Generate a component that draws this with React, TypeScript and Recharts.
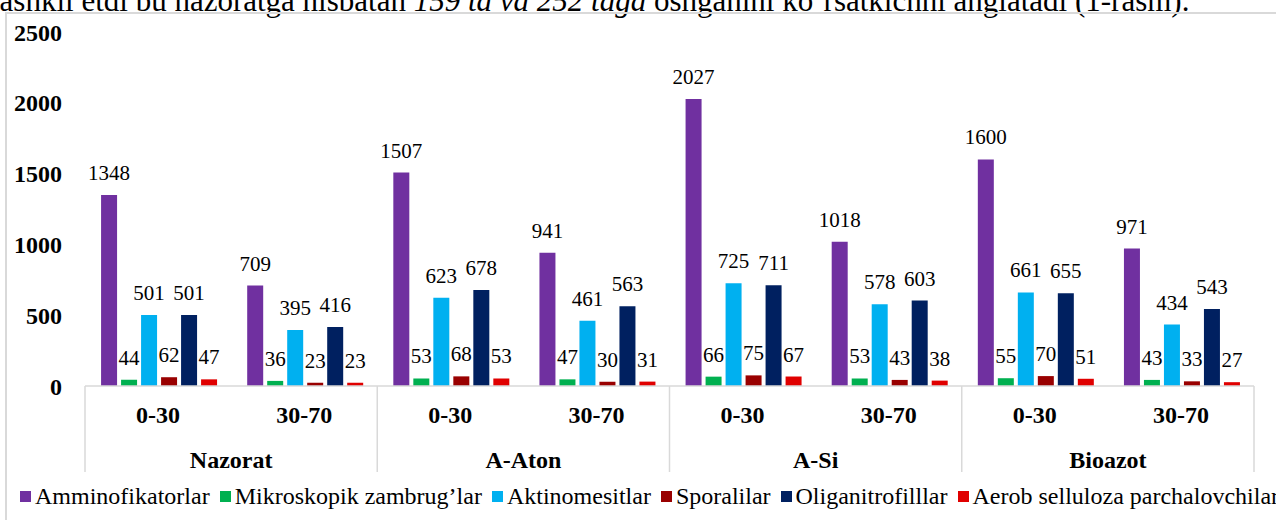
import { BarChart, Bar, XAxis, YAxis, Legend, LabelList } from 'recharts';

const groups = ['Nazorat', 'A-Aton', 'A-Si', 'Bioazot'];
const depths = ['0-30', '30-70'];

// one value per group/depth: Nazorat 0-30, Nazorat 30-70, A-Aton 0-30, ...
const amminofikatorlar = [1348, 709, 1507, 941, 2027, 1018, 1600, 971];
const mikroskopik = [44, 36, 53, 47, 66, 53, 55, 43];
const aktinomesitlar = [501, 395, 623, 461, 725, 578, 661, 434];
const sporalilar = [62, 23, 68, 30, 75, 43, 70, 33];
const oliganitrofillar = [501, 416, 678, 563, 711, 603, 655, 543];
const aerob = [47, 23, 53, 31, 67, 38, 51, 27];

const yTicks = [0, 500, 1000, 1500, 2000, 2500];

const series = [
  { key: 'amm', name: 'Amminofikatorlar', color: '#7030A0', values: amminofikatorlar },
  { key: 'mik', name: 'Mikroskopik zambrug’lar', color: '#00B050', values: mikroskopik },
  { key: 'akt', name: 'Aktinomesitlar', color: '#00B0F0', values: aktinomesitlar },
  { key: 'spo', name: 'Sporalilar', color: '#990000', values: sporalilar },
  { key: 'oli', name: 'Oliganitrofilllar', color: '#002060', values: oliganitrofillar },
  { key: 'aer', name: 'Aerob selluloza parchalovchilar', color: '#E00000', values: aerob },
];

const data = groups.flatMap((g, gi) =>
  depths.map((d, di) => {
    const row: Record<string, string | number> = { group: g, depth: d };
    series.forEach((s) => {
      row[s.key] = s.values[gi * depths.length + di];
    });
    return row;
  })
);

const FONT = '"Liberation Serif", "Times New Roman", serif';
const GRID = '#d9d9d9';
const PLOT_W = 1276 - 85 - 22;

function DepthTick(props: any) {
  const { x, y, index, payload } = props;
  const band = PLOT_W / data.length;
  const row = data[index];
  const first = index % depths.length === 0;
  const last = index === data.length - 1;
  return (
    <g>
      <text x={x} y={y + 37} textAnchor="middle" fontFamily={FONT} fontWeight="bold" fontSize={24} fill="#000">
        {payload.value}
      </text>
      {first && (
        <>
          <line x1={x - band / 2} x2={x - band / 2} y1={y} y2={y + 86} stroke={GRID} strokeWidth={1.5} />
          <text x={x + band / 2} y={y + 82} textAnchor="middle" fontFamily={FONT} fontWeight="bold" fontSize={24} fill="#000">
            {row.group}
          </text>
        </>
      )}
      {last && <line x1={x + band / 2} x2={x + band / 2} y1={y} y2={y + 86} stroke={GRID} strokeWidth={1.5} />}
    </g>
  );
}

function LegendBox() {
  return (
    <div style={{ display: 'flex', whiteSpace: 'nowrap', fontFamily: FONT, fontSize: 24, color: '#000' }}>
      {series.map((s) => (
        <span key={s.key} style={{ display: 'inline-flex', alignItems: 'center', marginRight: 10 }}>
          <span style={{ width: 11, height: 11, background: s.color, marginRight: 4, display: 'inline-block' }} />
          {s.name}
        </span>
      ))}
    </div>
  );
}

export default function App() {
  return (
    <div style={{ position: 'absolute', left: 0, top: 0, width: 1276, height: 520, overflow: 'hidden', background: '#fff' }}>
      <div
        style={{
          position: 'absolute',
          left: -9,
          top: -15,
          fontFamily: FONT,
          fontSize: 31,
          lineHeight: '31px',
          whiteSpace: 'nowrap',
        }}
      >
        tashkil etdi bu nazoratga nisbatan <i>159 ta va 252 taga</i> oshganini ko‘rsatkichni anglatadi (1-rasm).
      </div>
      <div
        style={{
          position: 'absolute',
          left: 5,
          top: 12,
          width: 1300,
          height: 600,
          border: `2px solid ${GRID}`,
        }}
      />
      <div style={{ position: 'absolute', left: 0, top: 0 }}>
        <BarChart
          width={1276}
          height={520}
          data={data}
          margin={{ top: 32, right: 22, bottom: 48, left: 0 }}
          barCategoryGap="11%"
          barGap={4}
        >
          <XAxis
            dataKey="depth"
            interval={0}
            tickSize={0}
            tickMargin={0}
            tickLine={false}
            axisLine={{ stroke: GRID, strokeWidth: 1.5 }}
            tick={<DepthTick />}
            height={86}
          />
          <YAxis
            domain={[0, 2500]}
            ticks={yTicks}
            width={85}
            tickSize={0}
            tickMargin={23}
            axisLine={false}
            tickLine={false}
            tick={{ fontFamily: FONT, fontWeight: 'bold', fontSize: 24, fill: '#000' }}
          />
          <Legend
            verticalAlign="middle"
            align="center"
            content={<LegendBox />}
            wrapperStyle={{ left: 20, top: 483, width: 1400 }}
          />
          {series.map((s) => (
            <Bar key={s.key} dataKey={s.key} name={s.name} fill={s.color} isAnimationActive={false}>
              <LabelList
                dataKey={s.key}
                position="top"
                offset={15}
                style={{ fontFamily: FONT, fontSize: 21, fill: '#000' }}
              />
            </Bar>
          ))}
        </BarChart>
      </div>
    </div>
  );
}
